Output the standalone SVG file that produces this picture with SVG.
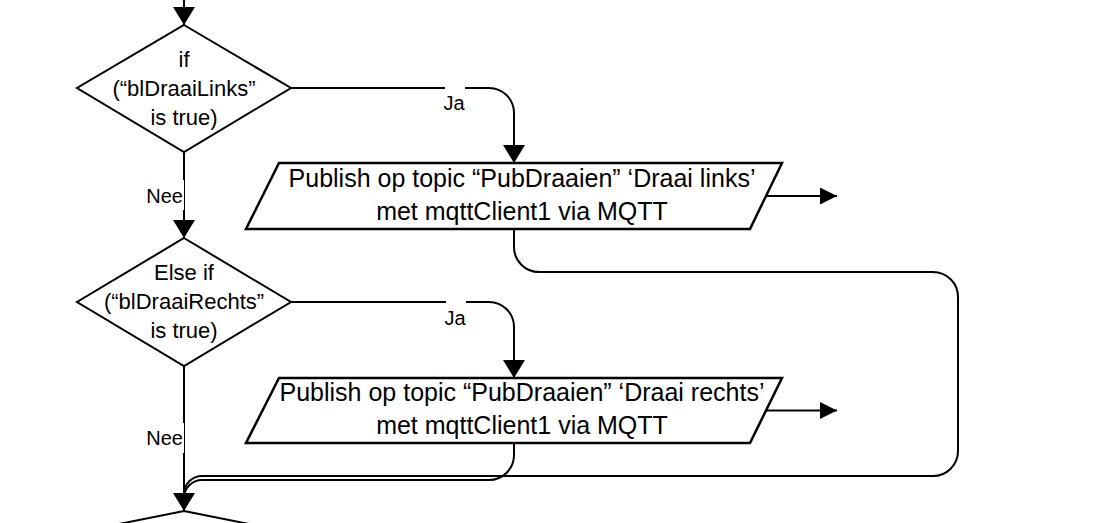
<svg xmlns="http://www.w3.org/2000/svg" width="1112" height="523" viewBox="0 0 1112 523">
  <style>
    .shape { fill: #ffffff; stroke: #000000; stroke-width: 2; stroke-linejoin: miter; }
    .io { fill: #ffffff; stroke: #000000; stroke-width: 2.5; stroke-linejoin: miter; }
    .conn { fill: none; stroke: #000000; stroke-width: 2; }
    .t { font-family: "Liberation Sans", Arial, sans-serif; fill: #000000; text-anchor: middle; }
    .dt { font-size: 22px; }
    .pt { font-size: 25px; }
    .lbl { font-family: "Liberation Sans", Arial, sans-serif; font-size: 20px; fill: #000000; }
    .bg { fill: #ffffff; stroke: none; }
  </style>
  <defs>
    <marker id="ad" viewBox="0 0 18 22" refX="18" refY="11" markerWidth="18" markerHeight="22" markerUnits="userSpaceOnUse" orient="auto">
      <path d="M0,0 L18,11 L0,22 Z" fill="#000000"/>
    </marker>
    <marker id="ar" viewBox="0 0 17 17" refX="17" refY="8.5" markerWidth="17" markerHeight="17" markerUnits="userSpaceOnUse" orient="auto">
      <path d="M0,0 L17,8.5 L0,17 Z" fill="#000000"/>
    </marker>
  </defs>

  <rect width="1112" height="523" fill="#ffffff"/>

  <g id="connectors">
    <path class="conn" d="M184,0 V25" marker-end="url(#ad)"/>
    <path class="conn" d="M184,152 V238" marker-end="url(#ad)"/>
    <path class="conn" d="M291,88 H489 A25,25 0 0 1 514,113 V163" marker-end="url(#ad)"/>
    <path class="conn" d="M766,196 H837" marker-end="url(#ar)"/>
    <path class="conn" d="M291,302 H489 A25,25 0 0 1 514,327 V378" marker-end="url(#ad)"/>
    <path class="conn" d="M766,410.5 H837" marker-end="url(#ar)"/>
    <path class="conn" d="M514,229 V247 A25,25 0 0 0 539,272 H933 A25,25 0 0 1 958,297 V451 A25,25 0 0 1 933,476 H202 A18,18 0 0 0 184,494"/>
    <path class="conn" d="M514,443 V455 A25,25 0 0 1 489,480 H202 A18,18 0 0 0 184,498"/>
    <path class="conn" d="M184,366 V511" marker-end="url(#ad)"/>
    <!-- label backgrounds -->
    <rect class="bg" x="445" y="84" width="20" height="30"/>
    <rect class="bg" x="446" y="298" width="20" height="30"/>
    <rect class="bg" x="143" y="180" width="41" height="30"/>
    <rect class="bg" x="143" y="423" width="41" height="30"/>
    <text class="lbl" x="454" y="110" text-anchor="middle">Ja</text>
    <text class="lbl" x="455" y="325" text-anchor="middle">Ja</text>
    <text class="lbl" x="183" y="203" text-anchor="end">Nee</text>
    <text class="lbl" x="183" y="445" text-anchor="end">Nee</text>
  </g>

  <g id="decision1">
    <polygon class="shape" points="184,25 291,88 184,152 77,88"/>
    <text class="t dt" x="184" y="67">if</text>
    <text class="t dt" x="184" y="96">(“blDraaiLinks”</text>
    <text class="t dt" x="184" y="125">is true)</text>
  </g>

  <g id="publish1">
    <polygon class="io" points="279,163 782,163 750,229 246,229"/>
    <text class="t pt" x="522" y="187">Publish op topic “PubDraaien” ‘Draai links’</text>
    <text class="t pt" x="522" y="220">met mqttClient1 via MQTT</text>
  </g>

  <g id="decision2">
    <polygon class="shape" points="184,238 291,302 184,366 77,302"/>
    <text class="t dt" x="184" y="280">Else if</text>
    <text class="t dt" x="184" y="309">(“blDraaiRechts”</text>
    <text class="t dt" x="184" y="338">is true)</text>
  </g>

  <g id="publish2">
    <polygon class="io" points="279,378 782,378 750,443 246,443"/>
    <text class="t pt" x="522" y="401">Publish op topic “PubDraaien” ‘Draai rechts’</text>
    <text class="t pt" x="522" y="434">met mqttClient1 via MQTT</text>
  </g>

  <g id="decision3">
    <polygon class="shape" points="184,511 309,536 184,561 59,536"/>
  </g>
</svg>
